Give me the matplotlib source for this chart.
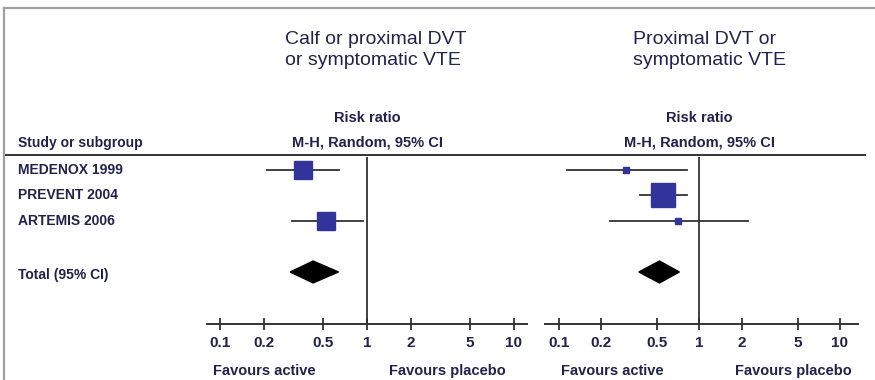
import numpy as np
import matplotlib
matplotlib.use("Agg")
import matplotlib.pyplot as plt
from matplotlib.lines import Line2D
from matplotlib.transforms import blended_transform_factory

plt.rcParams['font.family'] = ['Liberation Sans Narrow', 'Liberation Sans', 'DejaVu Sans']

# ---------------------------
# Data
# ---------------------------
studies = ['MEDENOX 1999', 'PREVENT 2004', 'ARTEMIS 2006']
total_label = 'Total (95% CI)'
titles = ['Calf or proximal DVT\nor symptomatic VTE', 'Proximal DVT or\nsymptomatic VTE']

# panel 1: calf or proximal DVT or symptomatic VTE (no PREVENT data)
rr_1 = [0.365, np.nan, 0.53]
lo_1 = [0.21, np.nan, 0.31]
hi_1 = [0.64, np.nan, 0.94]
wt_1 = [50, 0, 50]
tot_1 = [0.43, 0.30, 0.64]   # estimate, lower, upper

# panel 2: proximal DVT or symptomatic VTE
rr_2 = [0.30, 0.55, 0.70]
lo_2 = [0.114, 0.38, 0.23]
hi_2 = [0.82, 0.81, 2.23]
wt_2 = [5, 90, 5]
tot_2 = [0.52, 0.37, 0.72]

ticks = [0.1, 0.2, 0.5, 1, 2, 5, 10]
tick_labels = ['0.1', '0.2', '0.5', '1', '2', '5', '10']

TXT = '#22224a'
BLUE = '#33339c'
W, H = 875, 380

fig = plt.figure(figsize=(W / 100, H / 100), dpi=100)


def px_box(x0, x1, ytop, ybot):
    return [x0 / W, 1 - ybot / H, (x1 - x0) / W, (ybot - ytop) / H]


def panel(box, rr, lo, hi, wt, tot, title, title_x):
    ax = fig.add_axes(box)
    ax.set_xscale('log')
    ax.set_xlim(0.1 / 10 ** 0.089, 10 * 10 ** 0.089)
    ax.set_ylim(6.04, -0.51)
    for s in ['top', 'right', 'left']:
        ax.spines[s].set_visible(False)
    ax.spines['bottom'].set_color('#333333')
    ax.spines['bottom'].set_linewidth(1.4)
    ax.set_yticks([])
    ax.set_xticks(ticks)
    ax.set_xticklabels(tick_labels, fontweight='bold')
    ax.xaxis.set_minor_locator(matplotlib.ticker.NullLocator())
    ax.tick_params(axis='x', direction='inout', length=9, width=1.3,
                   color='#333333', labelsize=11, labelcolor=TXT, pad=4)
    ax.patch.set_alpha(0)

    ax.axvline(1, color='#333333', lw=1.3)

    for i in range(len(rr)):
        if np.isnan(rr[i]):
            continue
        ax.plot([lo[i], hi[i]], [i, i], color='#333333', lw=1.3, zorder=2)
        # square side in px proportional to sqrt(weight), converted to points
        side_px = 25 * np.sqrt(wt[i] / 100)
        ax.plot(rr[i], i, 's', ms=side_px * 0.72, color=BLUE, mec=BLUE, zorder=3)

    est, tlo, thi = tot
    yd = 4
    h = 0.43
    ax.fill([tlo, est, thi, est], [yd, yd - h, yd, yd + h], color='black', zorder=3)

    ax.annotate('Risk ratio', xy=(1, 1), xycoords=('data', 'axes fraction'),
                xytext=(0, 39), textcoords='offset pixels', ha='center', va='center',
                fontsize=10.5, color=TXT, fontweight='bold')
    ax.annotate('M-H, Random, 95% CI', xy=(1, 1), xycoords=('data', 'axes fraction'),
                xytext=(0, 15), textcoords='offset pixels', ha='center', va='center',
                fontsize=10.5, color=TXT, fontweight='bold')

    fig.text(title_x / W, 1 - 50 / H, title, ha='left', va='center',
             fontsize=14, color=TXT, linespacing=1.25)
    return ax


ax1 = panel(px_box(207, 527, 157, 324), rr_1, lo_1, hi_1, wt_1, tot_1, titles[0], 285)
ax2 = panel(px_box(545, 858, 157, 324), rr_2, lo_2, hi_2, wt_2, tot_2, titles[1], 633)
ax2.set_xlim(0.1 / 10 ** 0.1, 10 * 10 ** 0.13)

for ax, ca, cp in [(ax1, 0.2, 3.5), (ax2, 0.24, 4.7)]:
    for x, lab in [(ca, 'Favours active'), (cp, 'Favours placebo')]:
        ax.annotate(lab, xy=(x, 0), xycoords=('data', 'axes fraction'),
                    xytext=(0, -47), textcoords='offset pixels', ha='center', va='center',
                    fontsize=10.5, color=TXT, fontweight='bold')

# row labels
tr = blended_transform_factory(fig.transFigure, ax1.transData)
for i, name in enumerate(studies):
    fig.text(18 / W, i, name, transform=tr, ha='left', va='center',
             fontsize=10, color=TXT, fontweight='bold')
fig.text(18 / W, 4.1, total_label, transform=tr, ha='left', va='center',
         fontsize=10, color=TXT, fontweight='bold')
fig.text(18 / W, 1 - 143 / H, 'Study or subgroup', ha='left', va='center',
         fontsize=10, color=TXT, fontweight='bold')

# header rule and frame
fig.add_artist(Line2D([5 / W, 865 / W], [1 - 155 / H] * 2, color='#333333', lw=1.4))
fig.add_artist(Line2D([4 / W, 1], [1 - 8 / H] * 2, color='#a0a0a0', lw=1.6))
fig.add_artist(Line2D([4 / W] * 2, [0, 1 - 8 / H], color='#a0a0a0', lw=1.6))

fig.savefig('out.png', dpi=100)
